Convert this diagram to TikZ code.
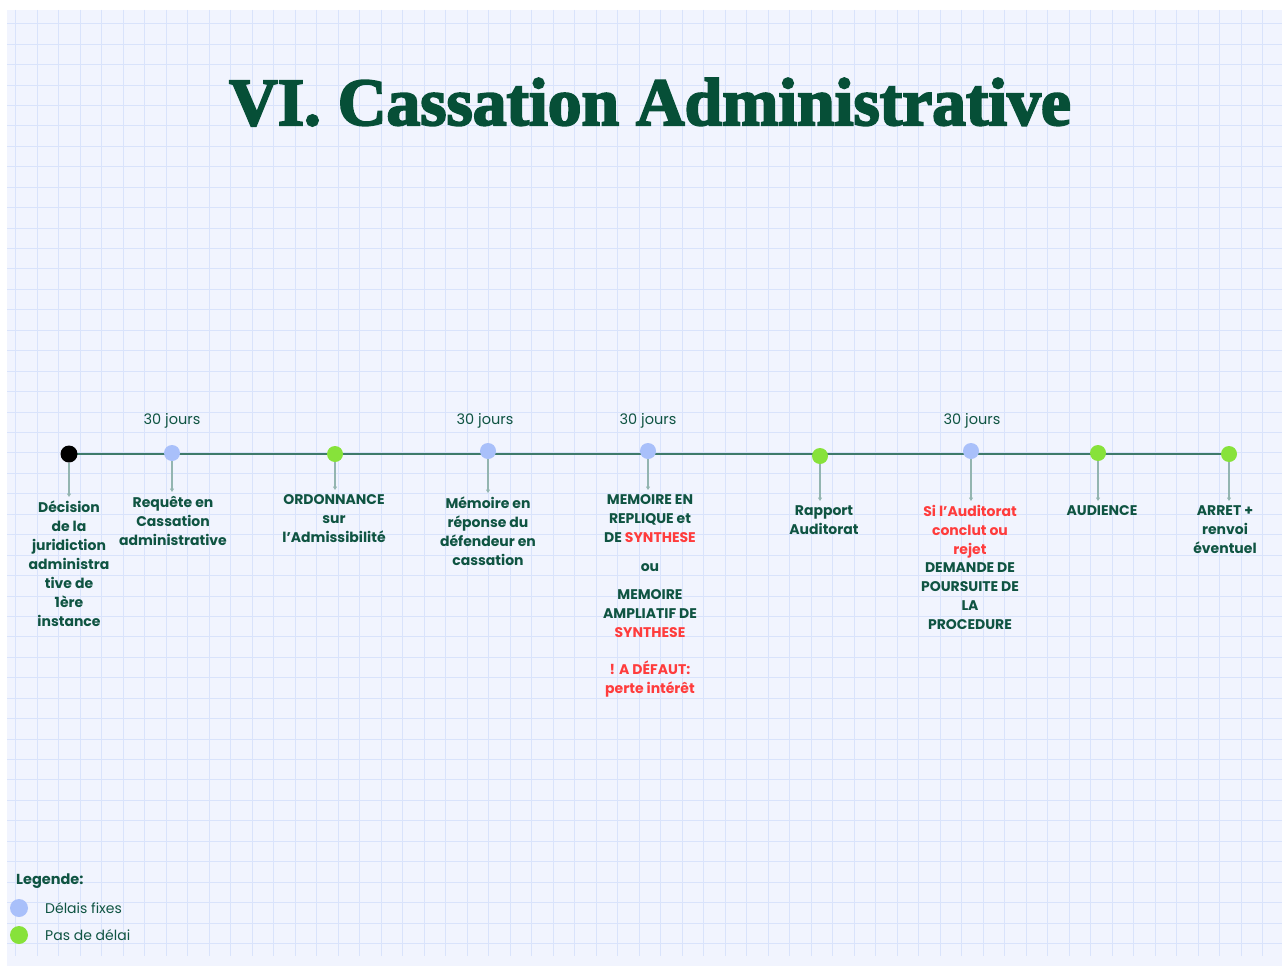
\documentclass[tikz,border=0pt]{standalone}
\usepackage{fontspec}
\setmainfont{Poppins}
\newfontfamily\titlefont{Liberation Serif}[BoldFeatures={FakeBold=3}]
\usetikzlibrary{arrows.meta,backgrounds}

\definecolor{paper}{HTML}{F1F4FE}
\definecolor{gridblue}{HTML}{D9E3FB}
\definecolor{ink}{HTML}{0F5442}
\definecolor{titleink}{HTML}{064F37}
\definecolor{alert}{HTML}{FF3C3C}
\definecolor{axisgreen}{HTML}{3E7B6A}
\definecolor{dropline}{HTML}{93B5B0}
\definecolor{fixedblue}{HTML}{A9C0FA}
\definecolor{freegreen}{HTML}{87E23A}

\tikzset{
  gridline/.style={draw=gridblue, line width=1pt},
  axis/.style={draw=axisgreen, line width=2pt},
  dot/.style={circle, inner sep=0pt, minimum size=16pt},
  fixeddot/.style={dot, fill=fixedblue},
  freedot/.style={dot, fill=freegreen},
  startdot/.style={dot, fill=black, minimum size=17pt},
  drop/.style={draw=dropline, line width=1.2pt, -{Triangle[length=3.5pt,width=4pt]}, shorten >=4pt},
  stage/.style={anchor=north, inner sep=0pt, align=center, text=ink,
    font=\fontsize{14}{19}\selectfont\bfseries},
  delay/.style={text=ink, font=\fontsize{14.5}{17}\selectfont},
  legendtext/.style={anchor=west, inner sep=0pt, text=ink, font=\fontsize{14}{17}\selectfont}
}

\begin{document}
\begin{tikzpicture}[x=1pt,y=-1pt]
\useasboundingbox (0,0) rectangle (1282,966);

% page and squared paper
\begin{scope}[on background layer]
  \fill[white] (0,0) rectangle (1282,966);
  \fill[paper] (7,10) rectangle (1282,966);
  \foreach \k in {0,...,58}
    \draw[gridline] ({15.5+21.5*\k},10) -- ({15.5+21.5*\k},956);
  \foreach \k in {0,...,45}
    \draw[gridline] (7,{23.7+20.44*\k}) -- (1282,{23.7+20.44*\k});
\end{scope}

% title
\node[anchor=base, inner sep=0pt, text=titleink,
      font=\titlefont\bfseries\fontsize{67.5}{70}\selectfont] (title) at (650,125)
  {VI. Cassation Administrative};

% milestones on the time line
\node[startdot]  (d0) at (69,454) {};
\node[fixeddot]  (d1) at (172,453) {};
\node[freedot]   (d2) at (335,454) {};
\node[fixeddot]  (d3) at (488,451) {};
\node[fixeddot]  (d4) at (648,451) {};
\node[freedot]   (d5) at (820,456) {};
\node[fixeddot]  (d6) at (971,451) {};
\node[freedot]   (d7) at (1098,453) {};
\node[freedot]   (d8) at (1229,454) {};

\begin{scope}[on background layer]
  \draw[axis] (d0.center) -- (d8.center);
\end{scope}

% delays above the line
\node[delay] (j1) at (172,421) {30 jours};
\node[delay] (j3) at (485,421) {30 jours};
\node[delay] (j4) at (648,421) {30 jours};
\node[delay] (j6) at (972,421) {30 jours};

% stage descriptions
\node[stage] (s0) at (69,501)
  {Décision\\de la\\juridiction\\administra\\tive de\\1ère\\instance};
\node[stage] (s1) at (173,496)
  {Requête en\\Cassation\\administrative};
\node[stage] (s2) at (334,494)
  {ORDONNANCE\\sur\\l’Admissibilité};
\node[stage] (s3) at (488,497)
  {Mémoire en\\réponse du\\défendeur en\\cassation};
\node[stage] (s4) at (650,494)
  {MEMOIRE EN\\REPLIQUE et\\DE {\color{alert}SYNTHESE}\\[10pt]ou\\[9pt]MEMOIRE\\AMPLIATIF DE\\{\color{alert}SYNTHESE}\\[18pt]{\color{alert}! A DÉFAUT:}\\{\color{alert}perte intérêt}};
\node[stage] (s5) at (824,505)
  {Rapport\\Auditorat};
\node[stage] (s6) at (970,505)
  {{\color{alert}Si l’Auditorat}\\{\color{alert}conclut ou}\\{\color{alert}rejet}\\[-1pt]DEMANDE DE\\POURSUITE DE\\LA\\PROCEDURE};
\node[stage] (s7) at (1102,505)
  {AUDIENCE};
\node[stage] (s8) at (1225,505)
  {ARRET +\\renvoi\\éventuel};

% links from each milestone to its description
\draw[drop] (d0) -- (d0 |- s0.north);
\draw[drop] (d1) -- (d1 |- s1.north);
\draw[drop] (d2) -- (d2 |- s2.north);
\draw[drop] (d3) -- (d3 |- s3.north);
\draw[drop] (d4) -- (d4 |- s4.north);
\draw[drop] (d5) -- (d5 |- s5.north);
\draw[drop] (d6) -- (d6 |- s6.north);
\draw[drop] (d7) -- (d7 |- s7.north);
\draw[drop] (d8) -- (d8 |- s8.north);

% legend
\node[legendtext, font=\fontsize{14.5}{17}\selectfont\bfseries] (leg) at (16,881) {Legende:};
\node[fixeddot, minimum size=18pt] (lfixed) at (19,908) {};
\node[legendtext] (lfixedtxt) at (45,908) {Délais fixes};
\node[freedot, minimum size=18pt] (lfree) at (19,935) {};
\node[legendtext] (lfreetxt) at (45,935) {Pas de délai};
\end{tikzpicture}
\end{document}
